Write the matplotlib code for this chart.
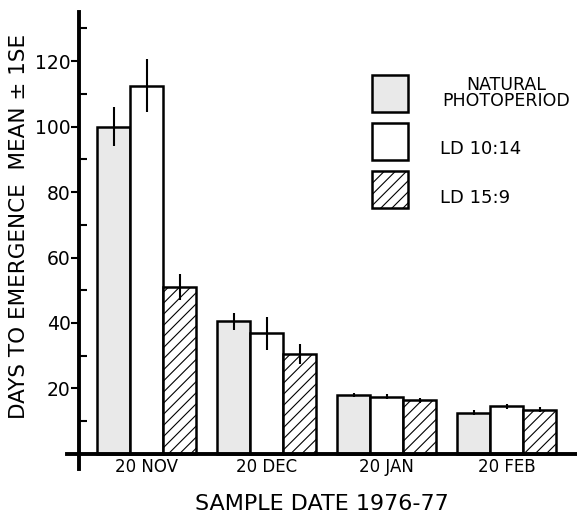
import numpy as np
import matplotlib.pyplot as plt
from matplotlib.patches import Rectangle

plt.rcParams['font.family'] = ['DejaVu Sans']
plt.rcParams['hatch.linewidth'] = 0.8

# datos
fechas = ['20 NOV', '20 DEC', '20 JAN', '20 FEB']
series = ['NATURAL\nPHOTOPERIOD', 'LD 10:14', 'LD 15:9']
natural = [100, 40.5, 18, 12.6]
natural_se = [6, 2.5, 0.7, 0.8]
ld_10_14 = [112.5, 36.8, 17.5, 14.6]
ld_10_14_se = [8, 5, 0.7, 0.8]
ld_15_9 = [51, 30.5, 16.4, 13.5]
ld_15_9_se = [4, 3, 0.8, 0.8]

fig = plt.figure(figsize=(5.77, 5.17), dpi=100)
ax = fig.add_axes([67/577, 48/517, 510/577, 457/517])

x = np.arange(len(fechas))
w = 0.275
estilos = [dict(facecolor='#e9e9e9', hatch=None),
           dict(facecolor='white', hatch=None),
           dict(facecolor='white', hatch='///')]
valores = [natural, ld_10_14, ld_15_9]
errores = [natural_se, ld_10_14_se, ld_15_9_se]

for i in range(3):
    pos = x + (i - 1) * w
    ax.bar(pos, valores[i], width=w, edgecolor='black', linewidth=1.8,
           zorder=2, **estilos[i])
    ax.errorbar(pos, valores[i], yerr=errores[i], fmt='none', ecolor='black',
                elinewidth=1.5, capsize=0, zorder=3)

ax.set_xlim(-0.6625, 3.5875)
ax.set_ylim(-4.6, 135)

for s in ['top', 'right']:
    ax.spines[s].set_visible(False)
ax.spines['left'].set_position(('data', -0.5625))
ax.spines['bottom'].set_position(('data', 0))
ax.spines['left'].set_linewidth(2.8)
ax.spines['bottom'].set_linewidth(2.8)

ax.set_yticks([20, 40, 60, 80, 100, 120])
ax.set_yticklabels(['20', '40', '60', '80', '100', '120'], fontsize=13.5)
ax.set_yticks([10, 30, 50, 70, 90, 110, 130], minor=True)
ax.tick_params(axis='y', which='major', direction='out', length=6, width=1.5, pad=0)
ax.tick_params(axis='y', which='minor', direction='in', length=6, width=1.5)
ax.set_xticks(x)
ax.set_xticklabels(fechas, fontsize=12)
ax.tick_params(axis='x', length=0, pad=3)

ax.set_xlabel('SAMPLE DATE 1976-77', fontsize=16, labelpad=13)
ax.set_ylabel('DAYS TO EMERGENCE  MEAN \u00b1 1SE', fontsize=15.5)
ax.yaxis.set_label_coords(-0.074, 0.53)

# leyenda a mano
cajas_y = [104.4, 89.8, 75.1]
for i in range(3):
    r = Rectangle((1.879, cajas_y[i]), 0.3, 11.3, facecolor=estilos[i]['facecolor'],
                  hatch=estilos[i]['hatch'], edgecolor='black', linewidth=1.8)
    ax.add_patch(r)
ax.text(2.996, 110.3, series[0], fontsize=12.5, ha='center', va='center', linespacing=0.85)
ax.text(2.446, 93.0, series[1], fontsize=13, ha='left', va='center')
ax.text(2.446, 78.1, series[2], fontsize=13, ha='left', va='center')

fig.savefig('out.png', dpi=100)
